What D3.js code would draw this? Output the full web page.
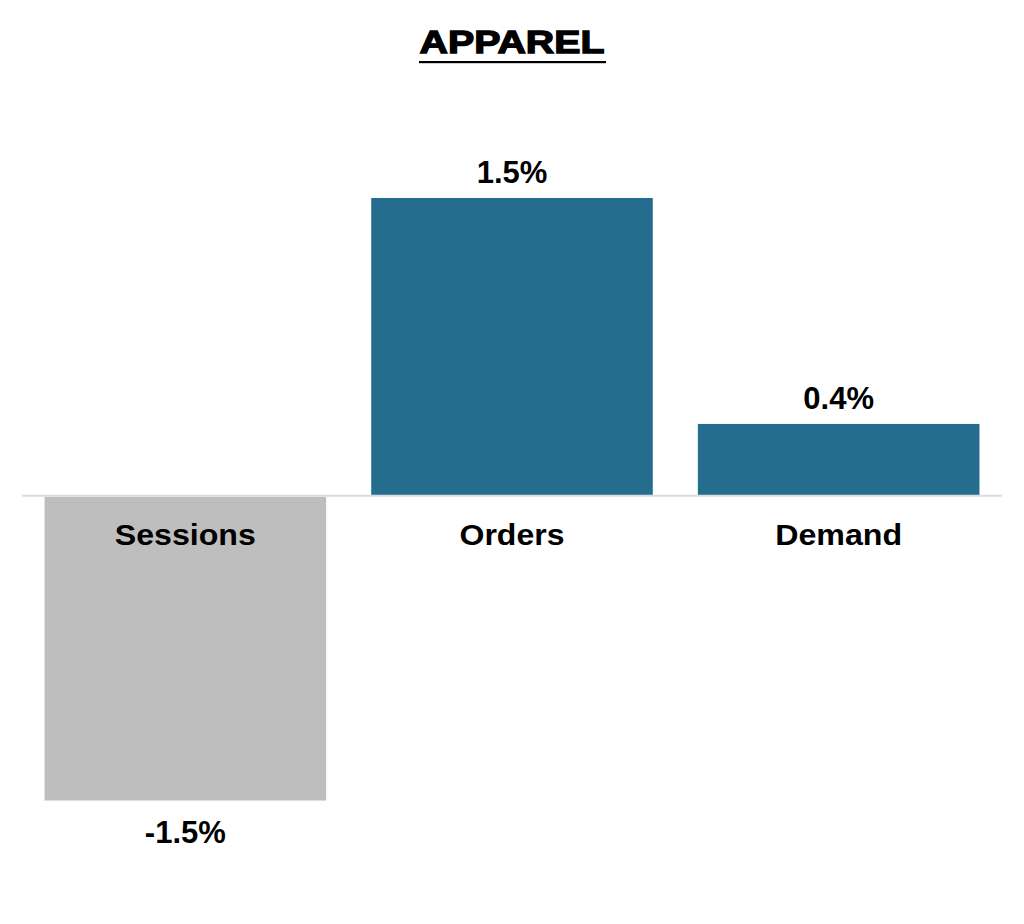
<!DOCTYPE html>
<html><head><meta charset="utf-8">
<script src="https://cdn.jsdelivr.net/npm/d3@7"></script>
<style>body{margin:0;background:#fff;} svg{display:block;font-family:"Liberation Sans",Arial,sans-serif;}</style>
</head><body>
<script>
const title = "APPAREL";
const categories = ["Sessions", "Orders", "Demand"];
const values = [-1.54, 1.50, 0.36];
const colors = ["#BEBEBE", "#246D8F", "#246D8F"];

const W = 1024, H = 924;
const svg = d3.select("body").append("svg").attr("width", W).attr("height", H);

const x = d3.scaleBand().domain(categories).range([22, 1002]).paddingInner(0.138).paddingOuter(0.069);
const y = d3.scaleLinear().domain([-1.54, 1.5]).range([800.5, 198]);
const fmt = d => d3.format(".1f")(d).replace("\u2212", "-") + "%";

// title
svg.append("text").attr("x", 512).attr("y", 53).attr("text-anchor", "middle")
  .attr("font-size", 31.5).attr("font-weight", "bold").attr("fill", "#000")
  .attr("stroke", "#000").attr("stroke-width", 1.3)
  .attr("textLength", 185).attr("lengthAdjust", "spacingAndGlyphs").text(title);
svg.append("rect").attr("x", 419).attr("y", 61).attr("width", 187).attr("height", 2.2).attr("fill", "#000");

// bars
svg.selectAll("rect.bar").data(categories).enter().append("rect").attr("class", "bar")
  .attr("x", d => x(d)).attr("width", x.bandwidth())
  .attr("y", (d, i) => values[i] >= 0 ? y(values[i]) : y(0) + 1.5)
  .attr("height", (d, i) => values[i] >= 0 ? y(0) - y(values[i]) : y(values[i]) - y(0) - 1.5)
  .attr("fill", (d, i) => colors[i]);

// baseline
svg.append("line").attr("x1", 22).attr("x2", 1002).attr("y1", y(0) + 0.5).attr("y2", y(0) + 0.5)
  .attr("stroke", "#DCDCDC").attr("stroke-width", 2);

// category labels (axis)
const axis = d3.axisBottom(x).tickSize(0).tickPadding(0);
const ag = svg.append("g").attr("transform", `translate(0,${y(0)})`).call(axis);
ag.select(".domain").remove();
ag.selectAll("text").attr("font-size", 29).attr("font-weight", "bold").attr("fill", "#000")
  .attr("font-family", "Liberation Sans, Arial, sans-serif")
  .attr("dy", null).attr("y", 50)
  .attr("textLength", d => ({Sessions: 141, Orders: 105, Demand: 127})[d])
  .attr("lengthAdjust", "spacingAndGlyphs");

// value labels
svg.selectAll("text.val").data(categories).enter().append("text").attr("class", "val")
  .attr("x", d => x(d) + x.bandwidth() / 2)
  .attr("y", (d, i) => values[i] >= 0 ? y(values[i]) - 15 : y(values[i]) + 42)
  .attr("text-anchor", "middle").attr("font-size", 31).attr("font-weight", "bold").attr("fill", "#000")
  .text((d, i) => fmt(values[i]));
</script>
</body></html>
